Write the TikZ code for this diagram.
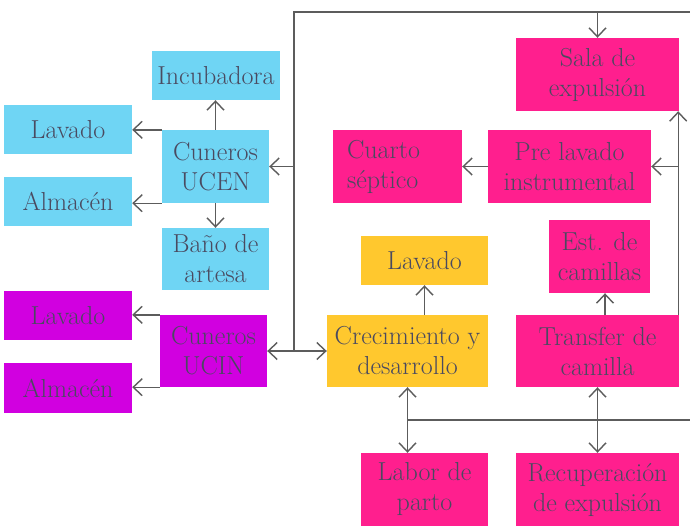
\documentclass[tikz,border=0pt]{standalone}
\usetikzlibrary{arrows.meta,calc}
\definecolor{cyb}{HTML}{6FD5F4}
\definecolor{pkb}{HTML}{FF1F8E}
\definecolor{mgb}{HTML}{D100E0}
\definecolor{ylb}{HTML}{FFC82E}
\definecolor{txc}{HTML}{4A4A60}
\definecolor{lnc}{HTML}{5C5C5C}
\begin{document}
\begin{tikzpicture}[x=1pt,y=-1pt,
  box/.style n args={3}{fill=#1, minimum width=#2, minimum height=#3, inner sep=0pt,
    align=center, text=txc, font=\fontsize{26}{30}\selectfont},
  lin/.style={draw=lnc, line width=1.4pt},
  arr/.style={lin, -{Straight Barb[length=9pt,width=17pt]}},
  dbl/.style={lin, {Straight Barb[length=9pt,width=17pt]}-{Straight Barb[length=9pt,width=17pt]}}]
\fill[white] (0,0) rectangle (690,532);
\useasboundingbox (0,0) rectangle (690,532);
% cyan group
\node[box={cyb}{128}{49}] (inc) at (216,75.5) {Incubadora};
\node[box={cyb}{128}{49}] (lavc) at (68,129.5) {Lavado};
\node[box={cyb}{128}{49}] (almc) at (68,201.5) {Almacén};
\node[box={cyb}{107}{73}] (ucen) at (215.5,166.5) {Cuneros\\UCEN};
\node[box={cyb}{107}{62}] (bano) at (215.5,259) {Baño de\\artesa};
% magenta group
\node[box={mgb}{128}{49}] (lavm) at (68,315.5) {Lavado};
\node[box={mgb}{128}{50}] (almm) at (68,388) {Almacén};
\node[box={mgb}{107}{72}] (ucin) at (213.5,351) {Cuneros\\UCIN};
% yellow group
\node[box={ylb}{161}{72}] (crec) at (407.5,351) {Crecimiento y\\desarrollo};
\node[box={ylb}{127}{49}] (lavy) at (424.5,260.5) {Lavado};
% pink group
\node[box={pkb}{163}{73}] (sala) at (597.5,74.5) {Sala de\\expulsión};
\node[box={pkb}{163}{73}] (prel) at (569.5,166.5) {Pre lavado\\instrumental};
\node[box={pkb}{129}{73}, align=left, text width=101] (cuarto) at (397.5,166.5) {Cuarto\\séptico};
\node[box={pkb}{101}{73}] (est) at (599.5,256.5) {Est. de\\camillas};
\node[box={pkb}{163}{72}] (trans) at (597.5,351) {Transfer de\\camilla};
\node[box={pkb}{127}{73}] (labor) at (424.5,489.5) {Labor de\\parto};
\node[box={pkb}{163}{73}] (recup) at (597.5,489.5) {Recuperación\\de expulsión};
% junction coordinates
\coordinate (jl) at (294,351);
\coordinate (jtop) at (294,12);
\coordinate (jtr) at (690,12);
\coordinate (jbr) at (690,420);
\coordinate (rx) at ([xshift=-1pt]sala.south east);
% cyan connectors
\draw[arr] (ucen.north) -- (ucen.north |- inc.south);
\draw[arr] (ucen.south) -- (ucen.south |- bano.north);
\draw[arr] (ucen.north west) -- (lavc.east |- ucen.north west);
\draw[arr] (ucen.south west) -- (almc.east |- ucen.south west);
% magenta connectors
\draw[arr] (ucin.north west) -- (lavm.east |- ucin.north west);
\draw[arr] (ucin.south west) -- (almm.east |- ucin.south west);
\draw[dbl] (ucin.east) -- (crec.west);
% big loop
\draw[lin] (jl) -- (jtop) -- (jtr);
\draw[arr] (ucen.east -| jtop) -- (ucen.east);
\draw[arr] (sala.north |- jtop) -- (sala.north);
% right side
\draw[arr] (trans.north -| rx) -- (rx);
\draw[arr] (prel.east -| rx) -- (prel.east);
\draw[arr] (prel.west) -- (cuarto.east);
\draw[arr] ([xshift=7.5pt]trans.north) -- ([xshift=7.5pt]trans.north |- est.south);
\draw[arr] (crec.north -| lavy.south) -- (lavy.south);
% bottom
\draw[dbl] (crec.south) -- (crec.south |- labor.north);
\draw[dbl] (trans.south) -- (trans.south |- recup.north);
\draw[lin] (crec.south |- jbr) -- (jbr);
\end{tikzpicture}
\end{document}
